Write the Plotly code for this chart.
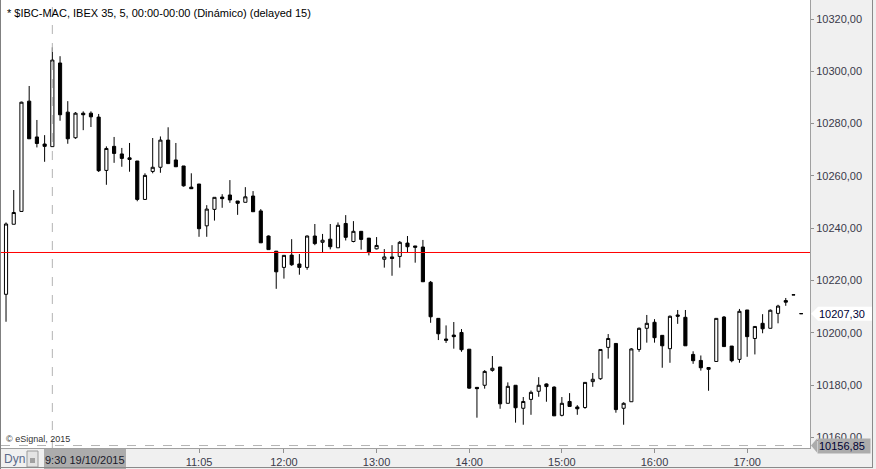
import plotly.graph_objects as go

# ---------------- data ----------------
times = [f"{h:02d}:{m:02d}" for h in range(9, 18) for m in range(0, 60, 5)][:104]

opens = [10214.7, 10241.5, 10246.4, 10288.6, 10274.9, 10272.2, 10271.2, 10303.2, 10284.4, 10274.6,
         10284.0, 10284.0, 10282.5, 10262.1, 10271.3, 10268.4, 10266.9, 10265.7, 10251.0, 10261.7,
         10263.3, 10273.7, 10266.1, 10263.8, 10255.7, 10256.9, 10240.9, 10247.2, 10251.9, 10252.7,
         10250.4, 10249.9, 10252.3, 10246.6, 10237.0, 10231.2, 10225.0, 10229.7, 10226.3, 10225.0,
         10237.0, 10234.6, 10235.8, 10232.5, 10241.8, 10234.9, 10238.8, 10236.2, 10232.1, 10228.1,
         10229.0, 10229.2, 10234.3, 10233.2, 10232.8, 10219.3, 10205.5, 10197.6, 10199.1, 10200.1,
         10193.7, 10179.1, 10179.9, 10185.6, 10186.9, 10173.0, 10179.9, 10171.1, 10174.5, 10177.6,
         10180.4, 10179.2, 10168.4, 10173.7, 10171.6, 10171.4, 10181.3, 10182.4, 10194.4, 10195.9,
         10171.1, 10173.6, 10193.6, 10201.7, 10204.0, 10199.0, 10193.9, 10206.8, 10205.9, 10191.7,
         10189.4, 10186.7, 10189.0, 10206.0, 10194.9, 10189.8, 10208.7, 10197.8, 10203.6, 10201.7,
         10207.4, 10212.3, 10214.5, 10207.3]
highs = [10242.2, 10254.6, 10288.4, 10294.4, 10281.4, 10275.6, 10309.2, 10305.8, 10288.6, 10284.4,
         10284.7, 10284.7, 10283.7, 10271.3, 10274.9, 10270.7, 10272.6, 10265.7, 10261.0, 10274.5,
         10275.1, 10278.6, 10272.6, 10263.8, 10261.0, 10256.9, 10248.8, 10251.8, 10253.0, 10258.4,
         10250.4, 10255.7, 10254.2, 10247.3, 10237.2, 10231.2, 10229.6, 10235.8, 10230.1, 10237.2,
         10241.6, 10237.8, 10241.6, 10242.2, 10245.0, 10242.7, 10238.8, 10236.2, 10236.6, 10232.0,
         10233.5, 10235.1, 10237.0, 10233.2, 10235.5, 10219.8, 10205.5, 10202.8, 10204.1, 10201.4,
         10193.7, 10179.1, 10185.7, 10191.1, 10186.9, 10181.0, 10179.9, 10175.4, 10177.9, 10183.0,
         10180.6, 10179.5, 10175.4, 10176.9, 10172.3, 10181.0, 10184.6, 10193.6, 10199.5, 10195.9,
         10173.4, 10194.1, 10202.0, 10206.8, 10205.2, 10199.0, 10206.6, 10208.7, 10208.7, 10192.9,
         10191.3, 10186.7, 10205.5, 10206.4, 10194.9, 10209.1, 10208.7, 10202.4, 10207.1, 10208.9,
         10210.7, 10213.3, 10214.5, 10207.3]
lows = [10204.2, 10241.5, 10246.4, 10274.2, 10270.9, 10265.4, 10271.2, 10281.1, 10272.3, 10274.2,
        10277.5, 10278.7, 10261.5, 10256.6, 10265.0, 10263.5, 10261.6, 10250.3, 10250.8, 10261.0,
        10261.2, 10264.7, 10263.5, 10255.9, 10255.1, 10236.7, 10236.7, 10242.9, 10247.8, 10249.7,
        10245.1, 10249.9, 10246.3, 10234.4, 10231.8, 10216.8, 10220.7, 10225.6, 10222.2, 10224.1,
        10233.5, 10230.7, 10231.9, 10232.5, 10235.3, 10234.6, 10231.8, 10229.6, 10231.9, 10224.9,
        10221.8, 10224.9, 10230.7, 10226.8, 10219.5, 10203.8, 10197.2, 10196.1, 10193.9, 10192.7,
        10178.6, 10167.5, 10178.6, 10185.1, 10170.9, 10173.0, 10165.6, 10164.8, 10168.6, 10175.5,
        10173.6, 10168.2, 10168.0, 10171.8, 10168.6, 10170.9, 10179.3, 10182.0, 10190.1, 10169.4,
        10164.8, 10173.6, 10192.7, 10196.2, 10196.2, 10186.6, 10188.5, 10203.4, 10195.0, 10188.1,
        10185.5, 10177.8, 10189.0, 10194.7, 10188.7, 10188.5, 10190.8, 10191.7, 10199.8, 10201.7,
        10203.6, 10210.3, 10214.5, 10207.3]
closes = [10241.6, 10246.0, 10288.2, 10274.2, 10272.4, 10271.3, 10304.3, 10283.4, 10274.2, 10284.0,
          10283.4, 10282.6, 10262.0, 10270.5, 10268.6, 10266.7, 10266.3, 10251.0, 10260.2, 10263.3,
          10273.7, 10264.7, 10263.5, 10256.2, 10255.1, 10239.8, 10247.3, 10251.8, 10251.3, 10250.8,
          10249.5, 10252.0, 10246.3, 10234.4, 10231.8, 10223.3, 10229.6, 10226.0, 10225.0, 10237.0,
          10234.1, 10235.4, 10232.9, 10241.1, 10236.5, 10238.8, 10235.7, 10230.9, 10233.4, 10229.0,
          10228.4, 10234.6, 10232.9, 10232.7, 10219.5, 10206.1, 10199.6, 10197.1, 10198.5, 10193.5,
          10178.8, 10178.6, 10185.2, 10186.4, 10172.8, 10179.5, 10171.3, 10173.7, 10177.2, 10179.9,
          10179.4, 10168.2, 10173.0, 10171.8, 10170.9, 10181.0, 10182.2, 10193.6, 10197.8, 10170.6,
          10173.0, 10193.8, 10201.7, 10203.6, 10198.1, 10195.0, 10206.3, 10206.3, 10195.0, 10189.3,
          10186.6, 10186.0, 10205.5, 10194.7, 10189.3, 10208.2, 10198.5, 10202.4, 10201.5, 10208.6,
          10210.2, 10211.7, 10214.5, 10207.3]

ref_level = 10230.7          # red horizontal line
last_price = 10207.30
cursor_price = 10156.85
cursor_time = "09:30"

x_tick_vals = ["11:05", "12:00", "13:00", "14:00", "15:00", "16:00", "17:00"]
x_tick_text = ["11:05", "12:00", "13:00", "14:00", "15:00", "16:00", "17:00"]
y_tick_vals = [10160, 10180, 10200, 10220, 10240, 10260, 10280, 10300, 10320]
y_tick_text = ["10160,00", "10180,00", "10200,00", "10220,00", "10240,00",
               "10260,00", "10280,00", "10300,00", "10320,00"]

title_text = "* $IBC-MAC, IBEX 35, 5, 00:00-00:00 (Dinámico) (delayed 15)"

# ---------------- layout geometry ----------------
W, H = 876, 469
ML, MR, MT, MB = 1, 66, 0, 21
PW, PH = W - ML - MR, H - MT - MB
Y0, Y1 = 10155.9, 10327.3
X0, X1 = -0.65, 104.14

def px(x):   # pixel -> paper x
    return (x - ML) / PW

def py(y):   # pixel -> paper y
    return (H - MB - y) / PH

def vy(v):   # value -> paper y
    return (v - Y0) / (Y1 - Y0)

FONT = "Liberation Sans, Arial, sans-serif"
AXC = "#3a3a4a"

fig = go.Figure()
fig.add_trace(go.Candlestick(
    x=times, open=opens, high=highs, low=lows, close=closes,
    increasing=dict(fillcolor="white", line=dict(color="black", width=1)),
    decreasing=dict(fillcolor="black", line=dict(color="black", width=1)),
    whiskerwidth=0, showlegend=False, hoverinfo="x+y"))

shapes = []
# red reference line
shapes.append(dict(type="line", xref="paper", yref="y", x0=0, x1=1, y0=ref_level, y1=ref_level,
                   line=dict(color="#ff0000", width=1), layer="above"))
# crosshair
shapes.append(dict(type="line", xref="x", yref="paper", x0=cursor_time, x1=cursor_time, y0=0, y1=1,
                   line=dict(color="#b4b4b4", width=1, dash="dash"), layer="above"))
shapes.append(dict(type="line", xref="paper", yref="paper", x0=0, x1=1,
                   y0=vy(cursor_price), y1=vy(cursor_price),
                   line=dict(color="#b4b4b4", width=1, dash="dash"), layer="above"))
# last price label (white with arrow)
yl = vy(last_price); hh = 7 / PH
shapes.append(dict(type="path", xref="paper", yref="paper",
                   path=f"M {px(811)},{yl} L {px(818)},{yl+hh} L {px(872)},{yl+hh} L {px(872)},{yl-hh} L {px(818)},{yl-hh} Z",
                   fillcolor="white", line=dict(width=0), layer="above"))
# cursor price label arrow (gray)
yc = vy(cursor_price)
shapes.append(dict(type="path", xref="paper", yref="paper",
                   path=f"M {px(811)},{yc} L {px(817)},{yc+hh} L {px(817)},{yc-hh} Z",
                   fillcolor="#acacac", line=dict(width=0), layer="above"))
# cursor time label box
shapes.append(dict(type="rect", xref="paper", yref="paper", x0=px(44), x1=px(126), y0=py(469), y1=py(449),
                   fillcolor="#acacac", line=dict(width=0), layer="above"))
# lock icon box
shapes.append(dict(type="rect", xref="paper", yref="paper", x0=px(27), x1=px(38), y0=py(467), y1=py(451),
                   fillcolor="#e4e4e4", line=dict(color="#9a9a9a", width=1), layer="above"))
shapes.append(dict(type="rect", xref="paper", yref="paper", x0=px(30), x1=px(35), y0=py(463), y1=py(458),
                   fillcolor="#a0a0a0", line=dict(width=0), layer="above"))
# outer borders
shapes.append(dict(type="line", xref="paper", yref="paper", x0=px(0.5), x1=px(0.5), y0=py(0), y1=py(469),
                   line=dict(color="#808080", width=1), layer="above"))
shapes.append(dict(type="line", xref="paper", yref="paper", x0=px(872.5), x1=px(872.5), y0=py(0), y1=py(468),
                   line=dict(color="#8a8a8a", width=1), layer="above"))
shapes.append(dict(type="line", xref="paper", yref="paper", x0=px(0), x1=px(873), y0=py(467.5), y1=py(467.5),
                   line=dict(color="#8a8a8a", width=1), layer="above"))

annotations = [
    dict(text=title_text, xref="paper", yref="paper", x=px(5), y=py(13), xanchor="left", yanchor="middle",
         showarrow=False, font=dict(family=FONT, size=11, color="#000000")),
    dict(text="© eSignal, 2015", xref="paper", yref="paper", x=px(4), y=py(439), xanchor="left",
         yanchor="middle", showarrow=False, font=dict(family=FONT, size=9, color="#333333")),
    dict(text="Dyn", xref="paper", yref="paper", x=px(2), y=py(459), xanchor="left", yanchor="middle",
         showarrow=False, font=dict(family=FONT, size=12, color="#5a6a8a")),
    dict(text="9:30 19/10/2015", xref="paper", yref="paper", x=px(85), y=py(460), xanchor="center",
         yanchor="middle", showarrow=False, font=dict(family=FONT, size=11, color="#1a1a2a")),
    dict(text=f"{last_price:.2f}".replace(".", ","), xref="paper", yref="paper", x=px(817), y=yl,
         xanchor="left", yanchor="middle", showarrow=False, font=dict(family=FONT, size=11, color="#000033")),
    dict(text=f"{cursor_price:.2f}".replace(".", ","), xref="paper", yref="paper", x=px(817), y=yc,
         xanchor="left", yanchor="middle", showarrow=False, bgcolor="#acacac", borderpad=1,
         width=50, align="left",
         font=dict(family=FONT, size=11, color="#000033")),
]

fig.update_layout(
    width=W, height=H,
    margin=dict(l=ML, r=MR, t=MT, b=MB, pad=0),
    paper_bgcolor="#f0f0f0", plot_bgcolor="#ffffff",
    boxgap=0.42,
    showlegend=False,
    shapes=shapes, annotations=annotations,
    font=dict(family=FONT, size=11, color=AXC),
    xaxis=dict(type="category", range=[X0, X1], rangeslider=dict(visible=False),
               tickmode="array", tickvals=x_tick_vals, ticktext=x_tick_text,
               ticks="outside", ticklen=4, tickcolor="#909090", showgrid=False, zeroline=False,
               showline=True, linecolor="#a0a0a0", linewidth=1, mirror=True,
               tickfont=dict(family=FONT, size=11, color=AXC)),
    yaxis=dict(side="right", range=[Y0, Y1], tickmode="array", tickvals=y_tick_vals, ticktext=y_tick_text,
               ticks="outside", ticklen=3, tickcolor="#909090", showgrid=False, zeroline=False,
               showline=True, linecolor="#a0a0a0", linewidth=1, mirror=True,
               tickfont=dict(family=FONT, size=11, color=AXC)),
)

fig.write_html("out.html")
